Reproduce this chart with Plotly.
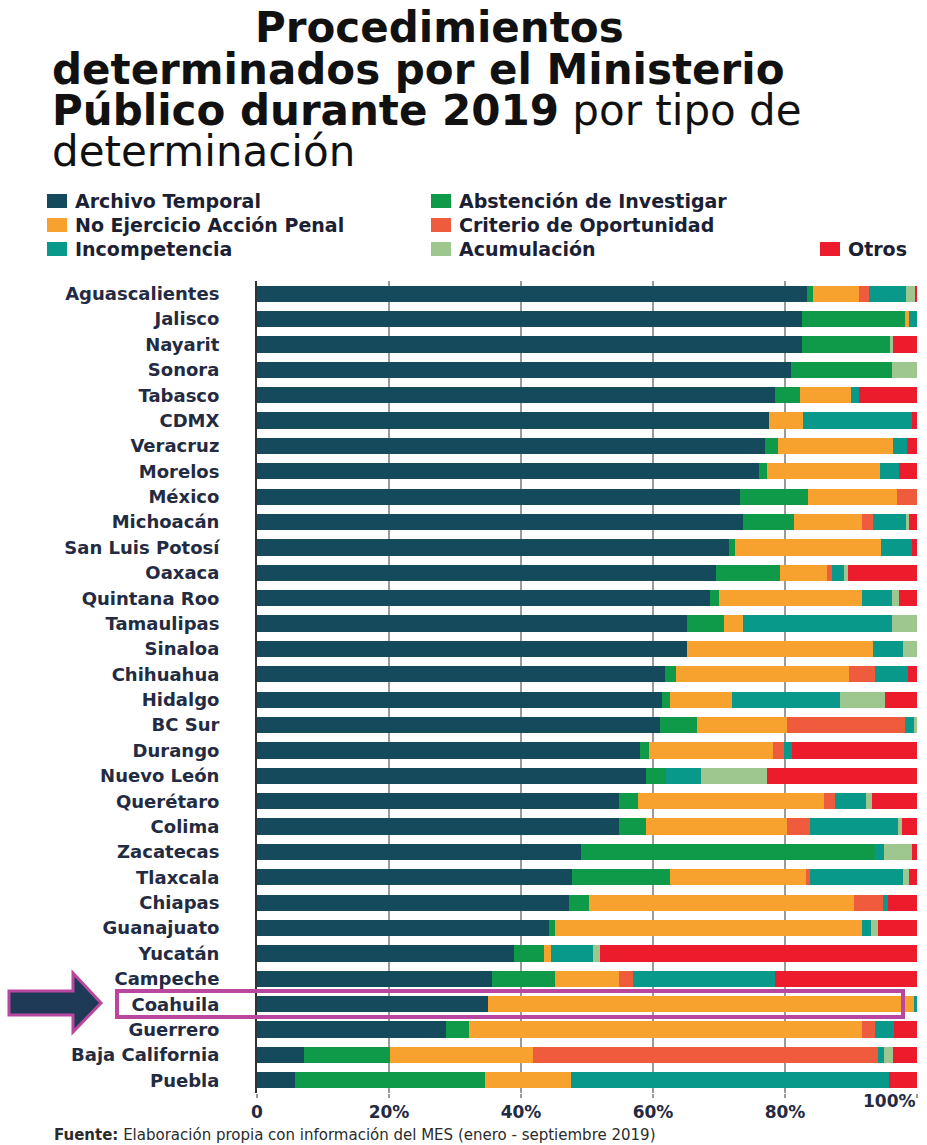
import plotly.graph_objects as go

# ---------------- data ----------------
states = ["Aguascalientes", "Jalisco", "Nayarit", "Sonora", "Tabasco", "CDMX", "Veracruz",
          "Morelos", "México", "Michoacán", "San Luis Potosí", "Oaxaca", "Quintana Roo",
          "Tamaulipas", "Sinaloa", "Chihuahua", "Hidalgo", "BC Sur", "Durango", "Nuevo León",
          "Querétaro", "Colima", "Zacatecas", "Tlaxcala", "Chiapas", "Guanajuato", "Yucatán",
          "Campeche", "Coahuila", "Guerrero", "Baja California", "Puebla"]

archivo_temporal = [83.4, 82.5, 82.5, 80.9, 78.5, 77.5, 76.9, 76.0, 73.2, 73.6, 71.5, 69.5, 68.7,
                    65.1, 65.1, 61.8, 61.4, 61.0, 58.1, 58.9, 54.9, 54.9, 49.1, 47.8, 47.2, 44.2,
                    38.9, 35.6, 35.0, 28.7, 7.1, 5.8]
abstencion = [0.9, 15.7, 13.4, 15.3, 3.7, 0.0, 2.1, 1.3, 10.3, 7.8, 0.9, 9.8, 1.3,
              5.7, 0.0, 1.7, 1.1, 5.7, 1.3, 3.0, 2.9, 4.0, 44.5, 14.7, 3.1, 0.9,
              4.6, 9.5, 0.0, 3.4, 13.0, 28.7]
no_ejercicio = [6.9, 0.6, 0.0, 0.0, 7.8, 5.2, 17.4, 17.1, 13.5, 10.3, 22.1, 7.1, 21.6,
                2.8, 28.2, 26.2, 9.4, 13.6, 18.8, 0.0, 28.1, 21.4, 0.0, 20.7, 40.2, 46.6,
                1.1, 9.8, 64.5, 59.5, 21.7, 13.1]
criterio = [1.6, 0.0, 0.0, 0.0, 0.0, 0.0, 0.0, 0.0, 3.0, 1.6, 0.0, 0.7, 0.0,
            0.0, 0.0, 3.9, 0.0, 17.9, 1.6, 0.0, 1.7, 3.5, 0.0, 0.6, 4.3, 0.0,
            0.0, 2.0, 0.0, 2.0, 52.3, 0.0]
incompetencia = [5.5, 1.2, 0.0, 0.0, 1.2, 16.5, 2.1, 2.8, 0.0, 5.1, 4.8, 1.8, 4.6,
                 22.6, 4.6, 5.0, 16.5, 1.3, 1.2, 5.3, 4.6, 13.3, 1.4, 14.1, 0.8, 1.3,
                 6.3, 21.6, 0.5, 2.9, 0.9, 48.1]
acumulacion = [1.4, 0.0, 0.5, 3.8, 0.0, 0.0, 0.0, 0.0, 0.0, 0.4, 0.0, 0.6, 1.0,
               3.8, 2.1, 0.0, 6.8, 0.5, 0.0, 10.1, 1.0, 0.6, 4.2, 0.9, 0.0, 1.1,
               1.0, 0.0, 0.0, 0.0, 1.4, 0.0]
otros = [0.3, 0.0, 3.6, 0.0, 8.8, 0.8, 1.5, 2.8, 0.0, 1.2, 0.7, 10.5, 2.8,
         0.0, 0.0, 1.4, 4.8, 0.0, 19.0, 22.7, 6.8, 2.3, 0.8, 1.2, 4.4, 5.9,
         48.1, 21.5, 0.0, 3.5, 3.6, 4.3]

series_names = ["Archivo Temporal", "Abstención de Investigar", "No Ejercicio Acción Penal",
                "Criterio de Oportunidad", "Incompetencia", "Acumulación", "Otros"]
series_values = [archivo_temporal, abstencion, no_ejercicio, criterio, incompetencia,
                 acumulacion, otros]
series_colors = ["#144a5c", "#0e9a48", "#f7a12e", "#ee5b3d", "#08998a", "#9dc78f", "#ec1c2c"]

x_tickvals = [0, 20, 40, 60, 80, 100]
x_ticktext = ["0", "20%", "40%", "60%", "80%", "100%"]

# ---------------- layout geometry (pixels) ----------------
W, H = 927, 1145
L, R, T, B = 257, 917, 281, 1093


def xp(px):
    return (px - L) / (R - L)


def yp(py):
    return (B - py) / (B - T)


FONT = "DejaVu Sans"
NAVY = "#232b42"

fig = go.Figure()
for name, vals, col in zip(series_names, series_values, series_colors):
    fig.add_trace(go.Bar(
        y=states, x=vals, name=name, orientation="h",
        marker=dict(color=col, line=dict(width=0)),
        showlegend=False,
        hovertemplate="%{y}: %{x:.1f}%<extra>" + name + "</extra>",
    ))

annotations = []
shapes = []

# Title
TFS = 42
annotations.append(dict(text="<b>Procedimientos</b>", x=xp(439), y=yp(27), xref="paper", yref="paper",
                        xanchor="center", yanchor="middle", showarrow=False,
                        font=dict(family=FONT, size=TFS, color="#111111")))
annotations.append(dict(text="<b>determinados por el Ministerio</b>", x=xp(50), y=yp(69), xref="paper",
                        yref="paper", xanchor="left", yanchor="middle", showarrow=False,
                        font=dict(family=FONT, size=TFS, color="#111111")))
annotations.append(dict(text="<b>Público durante 2019</b> por tipo de", x=xp(50), y=yp(111), xref="paper",
                        yref="paper", xanchor="left", yanchor="middle", showarrow=False,
                        font=dict(family=FONT, size=TFS, color="#111111")))
annotations.append(dict(text="determinación", x=xp(50), y=yp(152), xref="paper",
                        yref="paper", xanchor="left", yanchor="middle", showarrow=False,
                        font=dict(family=FONT, size=TFS, color="#111111")))

# Custom legend (3 columns)
legend_pos = {
    "Archivo Temporal": (47, 201),
    "No Ejercicio Acción Penal": (47, 225),
    "Incompetencia": (47, 249),
    "Abstención de Investigar": (431, 201),
    "Criterio de Oportunidad": (431, 225),
    "Acumulación": (431, 249),
    "Otros": (820, 249),
}
for name, col in zip(series_names, series_colors):
    sx, sy = legend_pos[name]
    shapes.append(dict(type="rect", xref="paper", yref="paper",
                       x0=xp(sx), x1=xp(sx + 20), y0=yp(sy + 7), y1=yp(sy - 7),
                       fillcolor=col, line=dict(width=0)))
    annotations.append(dict(text="<b>" + name + "</b>", x=xp(sx + 26), y=yp(sy), xref="paper",
                            yref="paper", xanchor="left", yanchor="middle", showarrow=False,
                            font=dict(family=FONT, size=19, color="#1b2033")))

# Highlight rectangle around Coahuila and arrow
shapes.append(dict(type="rect", xref="paper", yref="paper",
                   x0=xp(117), x1=xp(903), y0=yp(1017), y1=yp(991),
                   fillcolor="rgba(0,0,0,0)", line=dict(color="#b9479f", width=4)))
arrow_pts = [(9, 991), (73, 991), (73, 973), (101, 1003), (73, 1032), (73, 1015), (9, 1015)]
path = "M " + " L ".join(f"{xp(a):.5f},{yp(b):.5f}" for a, b in arrow_pts) + " Z"
shapes.append(dict(type="path", xref="paper", yref="paper", path=path,
                   fillcolor="#1f3a56", line=dict(color="#b9479f", width=3)))

# last x tick label, right aligned to the edge (as in the reference)
annotations.append(dict(text="<b>" + x_ticktext[-1] + "</b>", x=x_tickvals[-1], xref="x",
                        y=yp(1101), yref="paper", xanchor="right", yanchor="middle",
                        showarrow=False, xshift=1,
                        font=dict(family=FONT, size=17, color=NAVY)))

# Source
annotations.append(dict(text="<b>Fuente:</b> Elaboración propia con información del MES (enero - septiembre 2019)",
                        x=xp(52), y=yp(1135), xref="paper", yref="paper", xanchor="left",
                        yanchor="middle", showarrow=False,
                        font=dict(family=FONT, size=15, color="#2b2b2b")))

fig.update_layout(
    width=W, height=H,
    margin=dict(l=L, r=W - R, t=T, b=H - B, pad=0),
    barmode="stack", bargap=0.36,
    plot_bgcolor="white", paper_bgcolor="white",
    annotations=annotations, shapes=shapes,
    xaxis=dict(range=[0, 100], tickvals=x_tickvals,
               ticktext=["<b>" + t + "</b>" for t in x_ticktext[:-1]] + [""],
               showgrid=True, gridcolor="#9a9a9a", gridwidth=2, zeroline=False,
               ticks="outside", ticklen=4, tickcolor="#9a9a9a", tickwidth=2,
               tickfont=dict(family=FONT, size=17, color=NAVY),
               showline=False, fixedrange=True),
    yaxis=dict(autorange="reversed", showgrid=False, zeroline=False,
               showline=True, linecolor="#333333", linewidth=2,
               ticks="", ticklabelstandoff=32,
               tickfont=dict(family=FONT, size=18, color=NAVY),
               tickmode="array", tickvals=states,
               ticktext=["<b>" + s + "</b>" for s in states], fixedrange=True),
)

fig.write_html("out.html", config={"displayModeBar": False},
               post_script="document.body.style.margin='0px';")
